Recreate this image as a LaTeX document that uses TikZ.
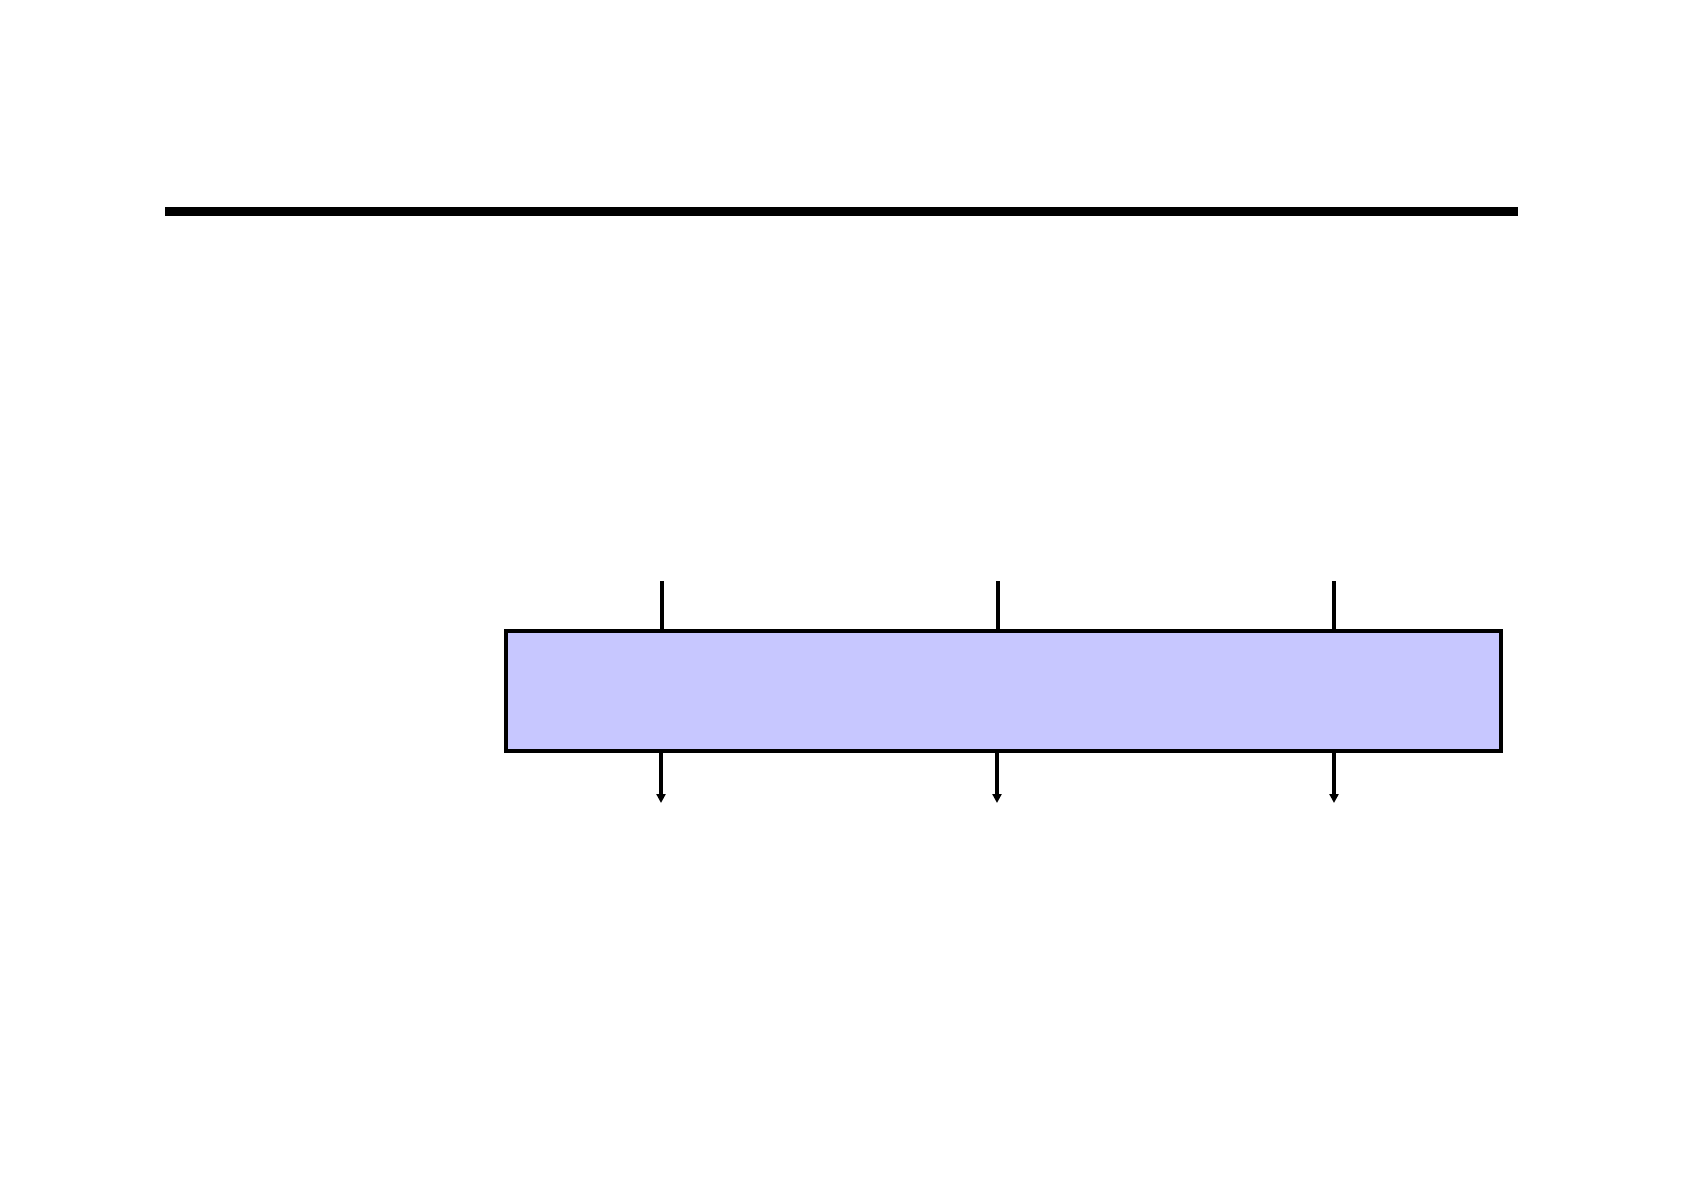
\documentclass[tikz,border=0pt]{standalone}
\usetikzlibrary{positioning, arrows.meta}

\definecolor{blockfill}{RGB}{199,199,255}

\begin{document}
\begin{tikzpicture}[
  x=0.5pt, y=-0.5pt,
  block/.style={
    rectangle, draw=black, fill=blockfill, line width=2.4pt,
    minimum width=497.5pt, minimum height=60pt, inner sep=0pt
  },
  feed/.style={line width=2pt},
  arr/.style={-{Triangle[length=4.5pt, width=4.5pt]}, line width=2pt},
]
\useasboundingbox (0,0) rectangle (1685,1192);

%% Top rule
\coordinate (ruleL) at (165,211.5);
\coordinate (ruleR) at (1518,211.5);
\draw[line width=4.5pt] (ruleL) -- (ruleR);

%% Block
\node[block] (unit) at (1003.5,691) {};

%% Inputs
\coordinate (in1) at (662,581);
\coordinate (in2) at (998,581);
\coordinate (in3) at (1334,581);

%% Outputs
\coordinate (out1) at (661,803);
\coordinate (out2) at (997,803);
\coordinate (out3) at (1334,803);

%% Connectors
\draw[feed] (in1) -- (in1 |- unit.north);
\draw[feed] (in2) -- (in2 |- unit.north);
\draw[feed] (in3) -- (in3 |- unit.north);
\draw[arr] (out1 |- unit.south) -- (out1);
\draw[arr] (out2 |- unit.south) -- (out2);
\draw[arr] (out3 |- unit.south) -- (out3);

\end{tikzpicture}
\end{document}
